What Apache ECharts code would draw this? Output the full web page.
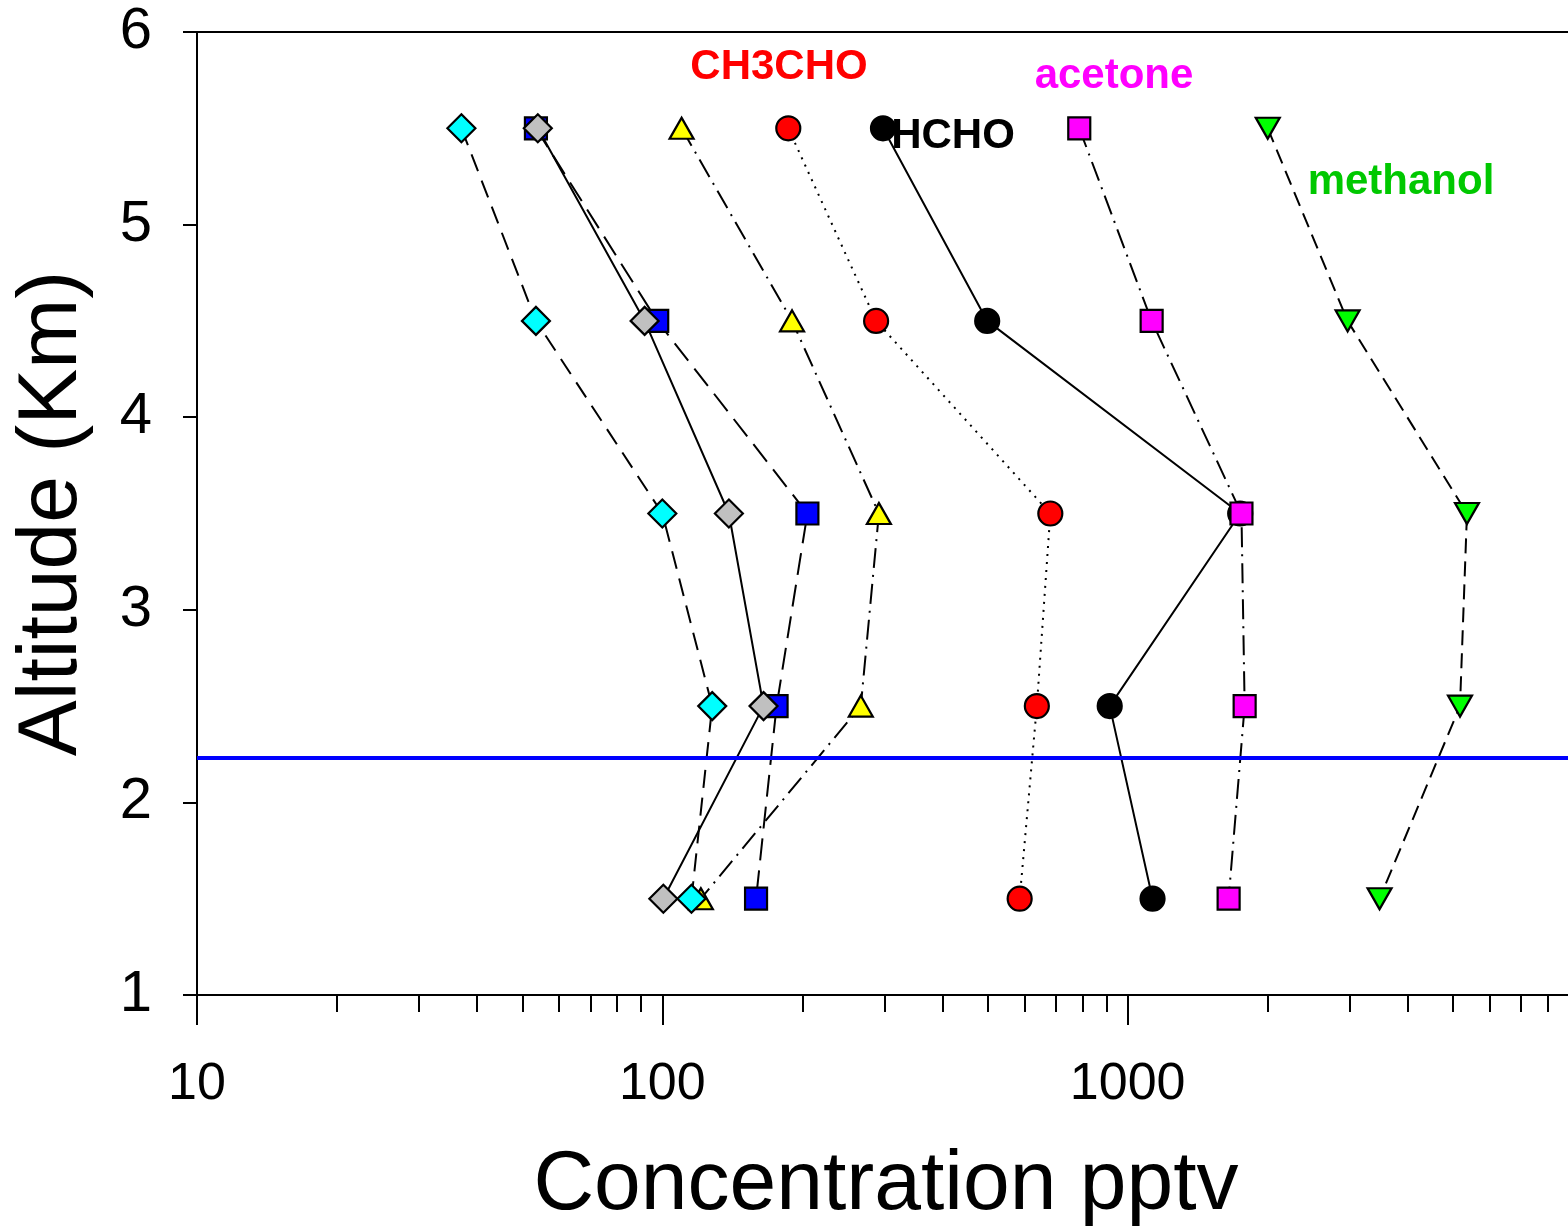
<!DOCTYPE html>
<html>
<head>
<meta charset="utf-8">
<script src="https://cdn.jsdelivr.net/npm/echarts@6/dist/echarts.min.js"></script>
<style>
html,body{margin:0;padding:0;background:#fff;overflow:hidden;}
#chart{width:1568px;height:1228px;}
</style>
</head>
<body>
<div id="chart"></div>
<script>
// ---- data ----
var altitudes = [5.5, 4.5, 3.5, 2.5, 1.5];
var cyanValues    = [37, 53.5, 100, 128, 115.5];
var grayValues    = [54, 91.6, 139, 165, 100.5];
var blueValues    = [53.5, 97.5, 205, 176, 159];
var yellowValues  = [110, 190, 292, 267, 121];
var ch3choValues  = [186.5, 288, 682, 638, 586];
var hchoValues    = [298, 499, 1745, 915, 1131];
var acetoneValues = [787, 1126, 1756, 1784, 1648];
var methanolValues= [2000, 2969, 5360, 5178, 3478];
var boundaryAltitude = 2.23;
var xRange = [10, 10000];
var yTicks = [1, 2, 3, 4, 5, 6];
var xMinorTicks = [20,30,40,50,60,70,80,90,200,300,400,500,600,700,800,900,2000,3000,4000,5000,6000,7000,8000,9000];
var textLabels = [
  {text: 'CH3CHO', color: '#ff0000', x: 779, y: 67},
  {text: 'HCHO', color: '#000000', x: 953, y: 136},
  {text: 'acetone', color: '#ff00ff', x: 1114, y: 76},
  {text: 'methanol', color: '#00c800', x: 1401, y: 182}
];

function pairs(vals) {
  return vals.map(function (v, i) { return [v, altitudes[i]]; });
}

var FONT = 'Liberation Sans, Arial, Helvetica, sans-serif';

function profile(name, vals, symbol, size, fill, dash, rotate) {
  return {
    name: name,
    type: 'line',
    xAxisIndex: 0,
    data: pairs(vals),
    symbol: symbol,
    symbolSize: size,
    symbolRotate: rotate || 0,
    showSymbol: true,
    itemStyle: {color: fill, borderColor: '#000', borderWidth: 2.2},
    lineStyle: {color: '#000', width: 2, type: dash},
    emphasis: {disabled: true}
  };
}

var chart = echarts.init(document.getElementById('chart'));
var option = {
  animation: false,
  backgroundColor: '#fff',
  grid: {
    left: 197, top: 32, width: 1396, height: 963,
    outerBoundsMode: 'none', containLabel: false,
    show: true, borderColor: '#000', borderWidth: 2, backgroundColor: 'transparent'
  },
  xAxis: [
    {
      type: 'log', logBase: 10, min: xRange[0], max: xRange[1], splitNumber: 3,
      name: 'Concentration pptv', nameLocation: 'middle', nameGap: 149,
      nameTextStyle: {fontSize: 84, color: '#000', fontFamily: FONT, padding: [0, 18, 0, 0]},
      axisLine: {show: true, lineStyle: {color: '#000', width: 2}},
      axisTick: {show: true, inside: false, length: 30, lineStyle: {color: '#000', width: 2}},
      axisLabel: {fontSize: 52, color: '#000', fontFamily: FONT, margin: 64, showMaxLabel: false,
        formatter: function (v) { return String(Math.round(v)); }},
      splitLine: {show: false}
    },
    {
      type: 'value', min: Math.log10(xRange[0]), max: Math.log10(xRange[1]),
      position: 'bottom', gridIndex: 0,
      axisLine: {show: false},
      axisTick: {show: true, inside: false, length: 17, lineStyle: {color: '#000', width: 2},
        customValues: xMinorTicks.map(function (v) { return Math.log10(v); })},
      axisLabel: {show: false},
      splitLine: {show: false}
    }
  ],
  yAxis: {
    type: 'value', min: yTicks[0], max: yTicks[yTicks.length - 1], interval: 1,
    name: 'Altitude (Km)', nameLocation: 'middle', nameGap: 102, nameRotate: 90,
    nameTextStyle: {fontSize: 84, color: '#000', fontFamily: FONT},
    axisLine: {show: true, lineStyle: {color: '#000', width: 2}},
    axisTick: {show: true, inside: false, length: 14, lineStyle: {color: '#000', width: 2}},
    axisLabel: {fontSize: 58, color: '#000', fontFamily: FONT, margin: 45},
    splitLine: {show: false}
  },
  series: [
    profile('blue', blueValues, 'rect', 22, '#0000ff', [22, 10]),
    profile('yellow', yellowValues, 'triangle', [24, 21], '#ffff00', [20, 7, 2, 7]),
    profile('gray', grayValues, 'diamond', 28, '#c0c0c0', 'solid'),
    profile('cyan', cyanValues, 'diamond', 28, '#00ffff', [18, 10]),
    profile('CH3CHO', ch3choValues, 'circle', 24, '#ff0000', [2, 6]),
    profile('HCHO', hchoValues, 'circle', 24, '#000000', 'solid'),
    profile('acetone', acetoneValues, 'rect', 22, '#ff00ff', [20, 7, 2, 7]),
    profile('methanol', methanolValues, 'triangle', [24, 21], '#00ff00', [15, 8], 180),
    {
      name: 'boundary', type: 'line', xAxisIndex: 0,
      data: [[xRange[0], boundaryAltitude], [xRange[1], boundaryAltitude]],
      symbol: 'none', z: 5,
      lineStyle: {color: '#0000ff', width: 4, type: 'solid'},
      emphasis: {disabled: true}
    }
  ],
  graphic: textLabels.map(function (t) {
    return {
      type: 'text', x: t.x, y: t.y, z: 10,
      style: {text: t.text, fill: t.color, font: 'bold 42px ' + FONT, align: 'center', verticalAlign: 'middle'}
    };
  })
};
chart.setOption(option);
</script>
</body>
</html>
